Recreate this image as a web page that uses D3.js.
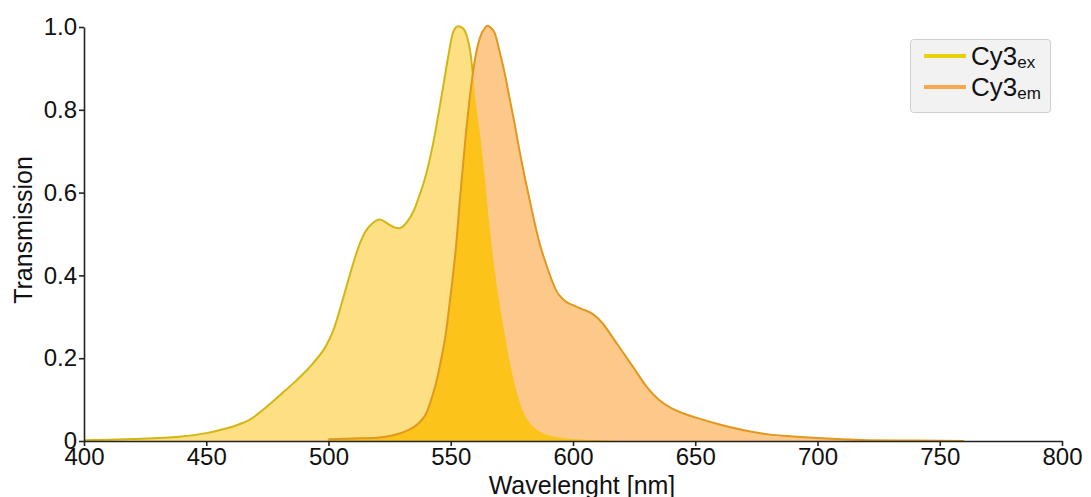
<!DOCTYPE html>
<html>
    <head>
        <meta charset="utf-8">
        <title>Cy3 spectra</title>
        <script src="https://d3js.org/d3.v7.min.js"></script>
        <style>
            body { margin: 0; background: #fff; }
            text { font-family: "Liberation Sans", Arial, sans-serif; fill: #111; }
        </style>
    </head>
    <body>
        <script>
            // Cy3 excitation spectrum (wavelength nm, transmission)
            const exWl = [400, 410, 420, 430, 440, 450, 456, 461, 465, 468, 471, 475, 480, 487, 494, 499,
                          502, 506, 510, 513, 515, 518, 521, 523, 525, 527, 529, 532, 535, 537, 539, 541,
                          543, 545, 547, 549, 551, 553, 555, 556.5, 558, 559, 560, 562, 564, 566, 568, 570,
                          572, 574, 576, 578, 580, 582, 585, 590, 595, 600, 610, 620];
            const exVal = [0.002, 0.003, 0.005, 0.007, 0.011, 0.019, 0.027, 0.035, 0.044, 0.052, 0.065, 0.084, 0.11, 0.147, 0.19, 0.23,
                           0.268, 0.345, 0.427, 0.48, 0.505, 0.526, 0.535, 0.53, 0.522, 0.516, 0.514, 0.528, 0.558, 0.59, 0.625, 0.67,
                           0.725, 0.79, 0.86, 0.93, 0.988, 1.002, 0.997, 0.98, 0.94, 0.89, 0.83, 0.74, 0.63, 0.51, 0.41, 0.33,
                           0.26, 0.195, 0.14, 0.097, 0.066, 0.046, 0.028, 0.014, 0.008, 0.005, 0.002, 0];

            // Cy3 emission spectrum
            const emWl = [500, 510, 520, 525, 530, 535, 538, 540, 542, 544, 546, 548, 550, 552, 554, 556,
                          558, 560, 562, 564, 565, 566, 568, 570, 572, 574, 576, 578, 580, 582, 584, 586,
                          588, 590, 593, 597, 600, 604, 608, 612, 616, 620, 625, 630, 635, 640, 645, 650,
                          660, 670, 680, 690, 700, 710, 720, 740, 760];
            const emVal = [0.004, 0.006, 0.008, 0.012, 0.02, 0.034, 0.05, 0.067, 0.1, 0.14, 0.195, 0.26, 0.355, 0.46, 0.6, 0.73,
                           0.84, 0.925, 0.975, 0.998, 1.003, 1.0, 0.985, 0.94, 0.89, 0.83, 0.77, 0.705, 0.645, 0.59, 0.535, 0.485,
                           0.445, 0.41, 0.365, 0.337, 0.328, 0.318, 0.307, 0.285, 0.252, 0.218, 0.175, 0.132, 0.1, 0.08, 0.067, 0.057,
                           0.04, 0.026, 0.016, 0.011, 0.007, 0.004, 0.002, 0.001, 0];

            const xTicks = [400, 450, 500, 550, 600, 650, 700, 750, 800];
            const yTicks = [0, 0.2, 0.4, 0.6, 0.8, 1.0];

            const exData = exWl.map((w, i) => ({ x: w, y: exVal[i] }));
            const emData = emWl.map((w, i) => ({ x: w, y: emVal[i] }));

            const svgWidth = 1091;
            const svgHeight = 497;

            const svg = d3.select("body")
                .append("svg")
                    .attr("width", svgWidth)
                    .attr("height", svgHeight);

            const xScale = d3.scaleLinear().domain([400, 800]).range([84, 1062]);
            const yScale = d3.scaleLinear().domain([0, 1]).range([441, 27]);

            const area = d3.area()
                .x(d => xScale(d.x))
                .y0(yScale(0))
                .y1(d => yScale(d.y))
                .curve(d3.curveMonotoneX);

            const line = d3.line()
                .x(d => xScale(d.x))
                .y(d => yScale(d.y))
                .curve(d3.curveMonotoneX);

            // clip for the overlap of both spectra
            svg.append("clipPath")
                .attr("id", "exClip")
              .append("path")
                .attr("d", area(exData));

            svg.append("path")
                .attr("d", area(exData))
                .attr("fill", "#fddf84");

            svg.append("path")
                .attr("d", line(exData))
                .attr("fill", "none")
                .attr("stroke", "#d2b615")
                .attr("stroke-width", 2);

            svg.append("path")
                .attr("d", area(emData))
                .attr("fill", "#fdc98a");

            svg.append("path")
                .attr("d", area(emData))
                .attr("clip-path", "url(#exClip)")
                .attr("fill", "#fcc31a")
                .attr("stroke", "#f5bd10")
                .attr("stroke-width", 1);

            svg.append("path")
                .attr("d", line(emData))
                .attr("fill", "none")
                .attr("stroke", "#e0981e")
                .attr("stroke-width", 2);

            // axes
            const xAxis = d3.axisBottom(xScale)
                .tickValues(xTicks)
                .tickSize(5)
                .tickSizeOuter(0)
                .tickFormat(d3.format("d"));

            const yAxis = d3.axisLeft(yScale)
                .tickValues(yTicks)
                .tickSize(5)
                .tickSizeOuter(0)
                .tickFormat(d => d === 0 ? "0" : d3.format(".1f")(d));

            const gx = svg.append("g")
                .attr("transform", `translate(0,${yScale(0)})`)
                .call(xAxis);

            const gy = svg.append("g")
                .attr("transform", `translate(${xScale(400)},0)`)
                .call(yAxis);

            [gx, gy].forEach(g => {
                g.selectAll("path, line").attr("stroke", "#222").attr("stroke-width", 1.6);
                g.selectAll("text")
                    .attr("font-size", 24)
                    .attr("font-family", "'Liberation Sans', Arial, sans-serif")
                    .attr("fill", "#111");
            });
            gx.selectAll("text").attr("dy", "0.72em").attr("y", 7);
            gy.selectAll("text").attr("x", -7);

            svg.append("text")
                .attr("x", 582)
                .attr("y", 494)
                .attr("text-anchor", "middle")
                .attr("font-size", 25)
                .text("Wavelenght [nm]");

            svg.append("text")
                .attr("transform", "translate(32,230) rotate(-90)")
                .attr("text-anchor", "middle")
                .attr("font-size", 25)
                .text("Transmission");

            // legend
            const legend = svg.append("g");
            legend.append("rect")
                .attr("x", 910.5).attr("y", 39.5)
                .attr("width", 140).attr("height", 73)
                .attr("rx", 3)
                .attr("fill", "#f2f2f2")
                .attr("stroke", "#cfcfcf");

            const legendItems = [
                { sub: "ex", color: "#e8d00c", y: 56 },
                { sub: "em", color: "#fba84c", y: 87 }
            ];

            legendItems.forEach(item => {
                legend.append("line")
                    .attr("x1", 924).attr("x2", 966)
                    .attr("y1", item.y).attr("y2", item.y)
                    .attr("stroke", item.color)
                    .attr("stroke-width", 4);
                const t = legend.append("text")
                    .attr("x", 971)
                    .attr("y", item.y + 9)
                    .attr("font-size", 26);
                t.append("tspan").text("Cy3");
                t.append("tspan")
                    .attr("font-size", 17)
                    .attr("dy", 3)
                    .text(item.sub);
            });
        </script>
    </body>
</html>
